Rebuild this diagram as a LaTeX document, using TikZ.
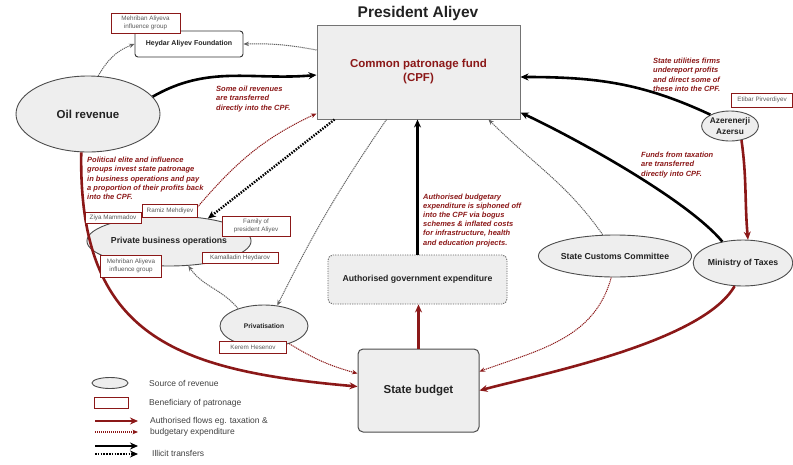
\documentclass[tikz,border=0pt]{standalone}
\usepackage{fontspec}
\setmainfont{Liberation Sans}
\usetikzlibrary{arrows.meta,shapes.geometric}
\definecolor{dred}{RGB}{139,24,24}
\definecolor{bfill}{RGB}{238,238,238}
\definecolor{ink}{RGB}{34,34,34}
\begin{document}
\begin{tikzpicture}[x=1pt,y=-1pt,
 src/.style={ellipse, draw=black!70, fill=bfill, line width=0.9pt, inner sep=0pt, text=ink, align=center},
 benef/.style={rectangle, draw=dred, fill=white, line width=0.9pt, inner sep=0pt, text=black!65, align=center, font=\fontsize{6.3pt}{7.5pt}\selectfont},
 note/.style={anchor=north west, inner sep=0pt, text=dred, align=left, font=\fontsize{7.5pt}{9.2pt}\selectfont\bfseries\itshape},
 bigtip/.style={-{Stealth[length=8pt,width=7pt]}},
 smalltip/.style={-{Stealth[length=5.5pt,width=4.5pt]}},
 illicit/.style={draw=black, line width=2.6pt, bigtip},
 illicitdot/.style={draw=black, line width=2.4pt, dash pattern=on 1.5pt off 1.3pt, bigtip},
 grayflow/.style={draw=black!62, line width=1pt, dash pattern=on 1.2pt off 0.8pt, smalltip},
 auth/.style={draw=dred, line width=2.6pt, bigtip},
 authdot/.style={draw=dred, line width=1pt, dash pattern=on 1.2pt off 0.8pt, smalltip},
 legtext/.style={anchor=west, inner sep=0pt, text=black!75, align=left, font=\fontsize{8.5pt}{11pt}\selectfont},
 boldtxt/.style={font=\fontsize{8.7pt}{10.5pt}\selectfont\bfseries}
]
\useasboundingbox (0,0) rectangle (793,464);

% ---- main nodes ----
\node[font=\fontsize{15.5pt}{18pt}\selectfont\bfseries, text=ink] (title) at (418,13) {President Aliyev};
\node[rectangle, draw=black!55, fill=bfill, line width=1pt, minimum width=203pt, minimum height=94pt,
      text=dred, align=center, font=\fontsize{11.5pt}{14pt}\selectfont\bfseries] (cpf) at (418.5,72) {Common patronage fund\\(CPF)};
\node[rectangle, rounded corners=3pt, draw=black!80, fill=white, line width=0.9pt, minimum width=108pt, minimum height=26pt,
      text=ink, font=\fontsize{7pt}{8pt}\selectfont\bfseries] (heyd) at (189,44) {Heydar Aliyev Foundation};
\node[src, minimum width=144pt, minimum height=76pt, font=\fontsize{11.5pt}{13pt}\selectfont\bfseries] (oil) at (88,114) {Oil revenue};
\node[src, minimum width=146pt, minimum height=50pt, boldtxt] (priv) at (169,241) {Private business operations};
\node[src, minimum width=88pt, minimum height=42pt, font=\fontsize{6.7pt}{8pt}\selectfont\bfseries] (prvt) at (264,326) {Privatisation};
\node[rectangle, rounded corners=5pt, draw=black!60, dash pattern=on 1.2pt off 1.2pt, fill=bfill, line width=0.9pt,
      minimum width=179pt, minimum height=49pt, text=ink, boldtxt] (age) at (417.5,279.5) {Authorised government expenditure};
\node[rectangle, rounded corners=5pt, draw=black!70, fill=bfill, line width=1pt, minimum width=121pt, minimum height=83pt,
      text=ink, font=\fontsize{11.5pt}{13pt}\selectfont\bfseries] (sb) at (418.5,390.5) {State budget};
\node[src, minimum width=128pt, minimum height=42pt, boldtxt] (cust) at (615,256) {State Customs Committee};
\node[src, minimum width=96pt, minimum height=46pt, boldtxt] (mot) at (743,263) {Ministry of Taxes};
\node[src, minimum width=54pt, minimum height=30pt, font=\fontsize{8.3pt}{11pt}\selectfont\bfseries] (aze) at (730,126) {Azerenerji\\Azersu};

% ---- connectors ----
\draw[grayflow] (oil.75) to[out=60,in=200] (heyd.west);
\draw[grayflow] ([yshift=22pt]cpf.west) to[bend right=6] (heyd.east);
\draw[illicit] (oil.15) to[out=30,in=185] ([yshift=-3pt]cpf.west);
\draw[authdot] (priv.50) to[out=50,in=205] ([yshift=6pt]cpf.south west);
\draw[illicitdot] ([xshift=18pt]cpf.south west) -- (priv.30);
\draw[grayflow] ([xshift=-32pt]cpf.south) to[bend right=4] (prvt.57);
\draw[grayflow] (prvt.146) to[out=130,in=-55] (priv.-52);
\draw[illicit] (age.north) -- (age.north |- cpf.south);
\draw[auth] (sb.north) -- (sb.north |- age.south);
\draw[grayflow] (cust.120) to[out=125,in=-45] ([xshift=-32pt]cpf.south east);
\draw[illicit] (mot.134) to[out=130,in=-25,looseness=0.6] ([yshift=7pt]cpf.south east);
\draw[illicit] (aze.150) to[out=155,in=0] ([yshift=-5pt]cpf.east);
\draw[auth] (aze.-51) to[out=-82,in=95] (mot.78);
\draw[auth] (mot.-110) to[out=-120,in=15,looseness=0.6] (sb.east);
\draw[authdot] (cust.-100) to[out=-105,in=20] ([yshift=19pt]sb.east);
\draw[authdot] (prvt.-35) to[bend right=8] ([yshift=17pt]sb.west);
\draw[auth] (oil.-100) to[out=-91,in=175,looseness=1.3] ([yshift=4pt]sb.west);

% ---- beneficiary labels ----
\node[benef, minimum width=69pt, minimum height=20pt] (mehtop) at (145.5,23) {Mehriban Aliyeva\\influence group};
\node[benef, minimum width=56pt, minimum height=11pt] (ziya) at (113,218) {Ziya Mammadov};
\node[benef, minimum width=55pt, minimum height=13pt] (ramiz) at (170,211) {Ramiz Mehdiyev};
\node[benef, minimum width=68pt, minimum height=20pt] (family) at (256,226) {Family of\\president Aliyev};
\node[benef, minimum width=76pt, minimum height=11pt] (kamal) at (240,258) {Kamalladin Heydarov};
\node[benef, minimum width=61pt, minimum height=22pt] (mehleft) at (131,266) {Mehriban Aliyeva\\influence group};
\node[benef, minimum width=67pt, minimum height=12pt] (kerem) at (253,347) {Kerem Hesenov};
\node[benef, minimum width=61pt, minimum height=14pt] (etibar) at (762,100) {Etibar Pirverdiyev};

% ---- annotations ----
\node[note] (n1) at (216,86) {Some oil revenues\\are transferred\\directly into the CPF.};
\node[note] (n2) at (87,157) {Political elite and influence\\groups invest state patronage\\in business operations and pay\\a proportion of their profits back\\into the CPF.};
\node[note] (n3) at (423,193.5) {Authorised budgetary\\expenditure is siphoned off\\into\ the CPF via bogus\\schemes \&\ inflated costs\\for infrastructure, health\\and education projects.};
\node[note] (n4) at (653,58) {State utilities firms\\undereport profits\\and direct some of\\these into the CPF.};
\node[note] (n5) at (641,152) {Funds from taxation\\are transferred\\directly into CPF.};

% ---- legend ----
\node[src, minimum width=36pt, minimum height=11pt] (legsrc) at (110,383) {};
\node[benef, minimum width=34pt, minimum height=11pt] (legben) at (111,403) {};
\coordinate (la1) at (95,421); \coordinate (lb1) at (138,421);
\coordinate (la2) at (95,432); \coordinate (lb2) at (138,432);
\coordinate (la3) at (95,446); \coordinate (lb3) at (138,446);
\coordinate (la4) at (95,454); \coordinate (lb4) at (138,454);
\draw[auth] (la1) -- (lb1);
\draw[authdot, line width=2pt] (la2) -- (lb2);
\draw[illicit] (la3) -- (lb3);
\draw[illicitdot] (la4) -- (lb4);
\node[legtext] (lt1) at (149,383) {Source of revenue};
\node[legtext] (lt2) at (149,403) {Beneficiary of patronage};
\node[legtext] (lt3) at (150,426.5) {Authorised flows eg. taxation \&\\budgetary expenditure};
\node[legtext] (lt4) at (152,453) {Illicit transfers};
\end{tikzpicture}
\end{document}
